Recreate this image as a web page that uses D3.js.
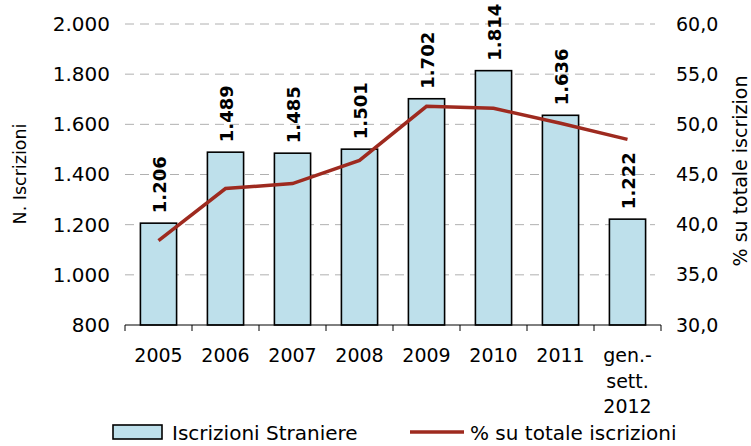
<!DOCTYPE html>
<html>
<head>
<meta charset="utf-8">
<script src="https://cdn.jsdelivr.net/npm/d3@7"></script>
<style>
  body { margin: 0; background: #fff; }
  text { font-family: "DejaVu Sans", sans-serif; fill: #000; }
</style>
</head>
<body>
<div id="chart"></div>
<script>
// data
var categories = ["2005", "2006", "2007", "2008", "2009", "2010", "2011", "gen.-|sett.|2012"];
var iscrizioni = [1206, 1489, 1485, 1501, 1702, 1814, 1636, 1222];
var percentuale = [38.4, 43.6, 44.1, 46.4, 51.8, 51.6, 50.1, 48.5];
var leftTicks = [800, 1000, 1200, 1400, 1600, 1800, 2000];
var rightTicks = [30, 35, 40, 45, 50, 55, 60];

var W = 751, H = 446;
var margin = { top: 24, right: 90, bottom: 121, left: 125 };
var width = W - margin.left - margin.right,
    height = H - margin.top - margin.bottom;

var svg = d3.select("#chart").append("svg")
    .attr("width", W)
    .attr("height", H);

var g = svg.append("g")
    .attr("transform", "translate(" + margin.left + "," + margin.top + ")");

// scales
var x = d3.scaleBand()
    .domain(categories)
    .range([0, width])
    .paddingInner(0.46)
    .paddingOuter(0.23);

var y = d3.scaleLinear().domain([800, 2000]).range([height, 0]);
var y2 = d3.scaleLinear().domain([30, 60]).range([height, 0]);

var fmtLeft = function(d) { return d3.format(",")(d).replace(/,/g, "."); };
var fmtRight = function(d) { return d3.format(".1f")(d).replace(".", ","); };

// gridlines
g.selectAll(".grid").data(leftTicks.slice(1)).enter().append("line")
    .attr("class", "grid")
    .attr("x1", 0).attr("x2", width - 6)
    .attr("y1", function(d) { return y(d); })
    .attr("y2", function(d) { return y(d); })
    .attr("stroke", "#b0b0b0")
    .attr("stroke-width", 1)
    .attr("stroke-dasharray", "9,6");

// left axis labels
var yAxis = d3.axisLeft(y).tickValues(leftTicks).tickFormat(fmtLeft).tickSize(0).tickPadding(15);
var ga = g.append("g").call(yAxis);
ga.select(".domain").remove();
ga.selectAll("text").style("font-size", "20px").style("font-family", "DejaVu Sans");

// right axis labels
var y2Axis = d3.axisRight(y2).tickValues(rightTicks).tickFormat(fmtRight).tickSize(0).tickPadding(15);
var gb = g.append("g").attr("transform", "translate(" + width + ",0)").call(y2Axis);
gb.select(".domain").remove();
gb.selectAll("text").style("font-size", "19px").style("font-family", "DejaVu Sans");

// bars
g.selectAll(".bar").data(iscrizioni).enter().append("rect")
    .attr("class", "bar")
    .attr("x", function(d, i) { return x(categories[i]); })
    .attr("width", x.bandwidth())
    .attr("y", function(d) { return y(d); })
    .attr("height", function(d) { return height - y(d); })
    .attr("fill", "#bee0eb")
    .attr("stroke", "#000")
    .attr("stroke-width", 1.6);

// bottom axis
var gx = g.append("g").attr("transform", "translate(0," + height + ")");
gx.append("line").attr("x1", 0).attr("x2", width).attr("stroke", "#000").attr("stroke-width", 1);
var bounds = d3.range(categories.length + 1).map(function(i) { return i * x.step(); });
gx.selectAll(".tick").data(bounds).enter().append("line")
    .attr("x1", function(d) { return d; }).attr("x2", function(d) { return d; })
    .attr("y1", 0).attr("y2", 6)
    .attr("stroke", "#000");

gx.selectAll(".xlab").data(categories).enter().append("text")
    .attr("class", "xlab")
    .attr("text-anchor", "middle")
    .style("font-size", "19px")
    .attr("transform", function(d) { return "translate(" + (x(d) + x.bandwidth() / 2) + ",37)"; })
    .each(function(d) {
      var t = d3.select(this);
      d.split("|").forEach(function(part, k) {
        t.append("tspan").attr("x", 0).attr("y", k * 25.5).text(part);
      });
    });

// line
var line = d3.line()
    .x(function(d, i) { return x(categories[i]) + x.bandwidth() / 2; })
    .y(function(d) { return y2(d); });

g.append("path").datum(percentuale)
    .attr("d", line)
    .attr("fill", "none")
    .attr("stroke", "#9e2a1f")
    .attr("stroke-width", 3.5);

// value labels
g.selectAll(".vlab").data(iscrizioni).enter().append("text")
    .attr("class", "vlab")
    .attr("transform", function(d, i) {
      return "translate(" + (x(categories[i]) + x.bandwidth() / 2 + 7) + "," + (y(d) - 10) + ") rotate(-90)";
    })
    .style("font-size", "18px")
    .style("font-weight", "bold")
    .text(fmtLeft);

// axis titles
svg.append("text")
    .attr("transform", "translate(26,174) rotate(-90)")
    .attr("text-anchor", "middle")
    .style("font-size", "17.5px")
    .text("N. Iscrizioni");

svg.append("text")
    .attr("transform", "translate(747,171) rotate(-90)")
    .attr("text-anchor", "middle")
    .style("font-size", "19px")
    .text("% su totale iscrizion");

// legend
var lg = svg.append("g").attr("transform", "translate(0,432)");
lg.append("rect")
    .attr("x", 113).attr("y", -7).attr("width", 49).attr("height", 14)
    .attr("fill", "#bee0eb").attr("stroke", "#000").attr("stroke-width", 1.6);
lg.append("text").attr("x", 172).attr("y", 7.5).style("font-size", "20px").text("Iscrizioni Straniere");
lg.append("line")
    .attr("x1", 410).attr("x2", 464).attr("y1", 0).attr("y2", 0)
    .attr("stroke", "#9e2a1f").attr("stroke-width", 3.5);
lg.append("text").attr("x", 470).attr("y", 7.5).style("font-size", "20px").text("% su totale iscrizioni");
</script>
</body>
</html>
